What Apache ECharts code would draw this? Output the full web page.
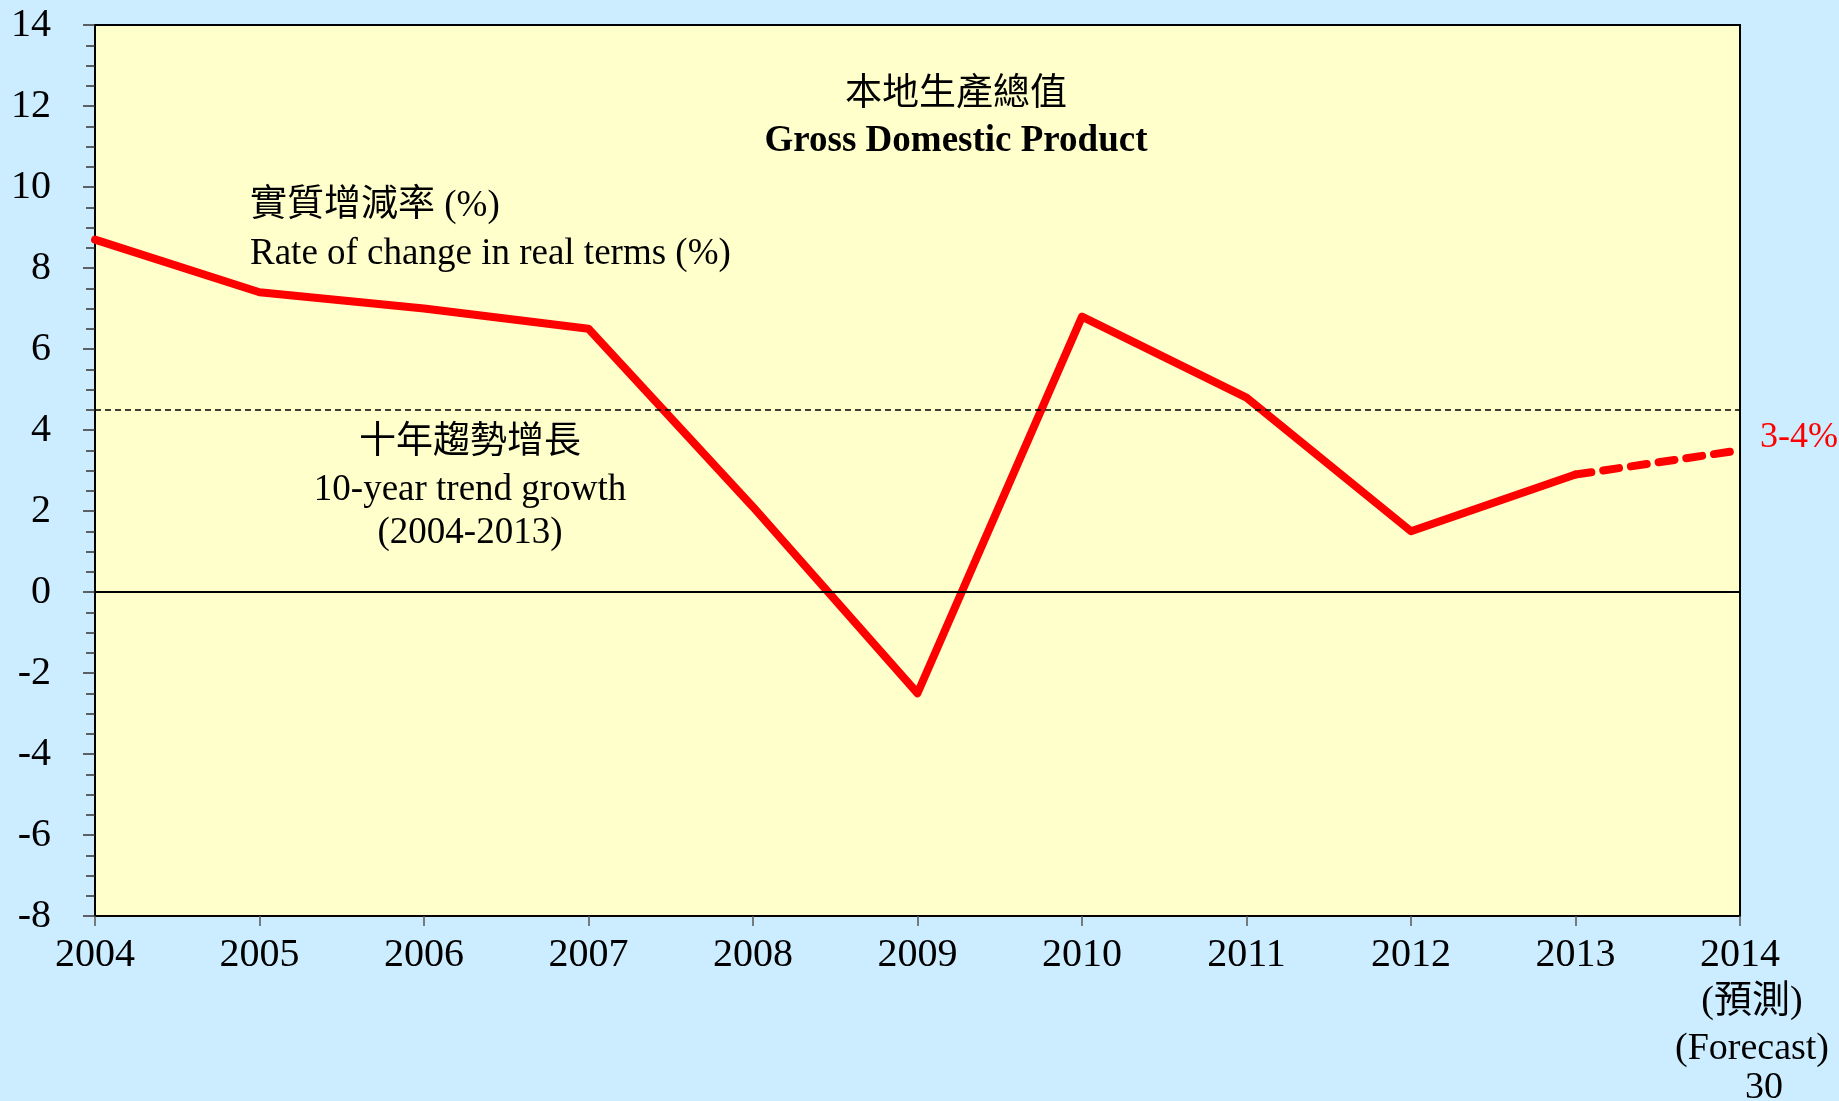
<!DOCTYPE html>
<html>
<head>
<meta charset="utf-8">
<script src="https://cdn.jsdelivr.net/npm/echarts@6/dist/echarts.min.js"></script>
<style>
  html, body { margin: 0; padding: 0; background: #CCECFF; }
  #chart { width: 1839px; height: 1101px; }
</style>
</head>
<body>
<div id="chart"></div>
<script>
// 本地生產總值 實質增減率 (%)
var years = ['2004', '2005', '2006', '2007', '2008', '2009', '2010', '2011', '2012', '2013', '2014'];
var actualGrowth = [8.7, 7.4, 7.0, 6.5, 2.1, -2.5, 6.8, 4.8, 1.5, 2.9, null];
var forecastGrowth = [null, null, null, null, null, null, null, null, null, 2.9, 3.5];
var trendGrowth = 4.5;
var yTicks = { min: -8, max: 14, step: 2 };

var serif = '"Liberation Serif", "Times New Roman", "Noto Sans CJK TC", serif';

var chart = echarts.init(document.getElementById('chart'));

function txt(x, y, text, size, opts) {
  opts = opts || {};
  return {
    type: 'text',
    x: x,
    y: y,
    silent: true,
    style: {
      text: text,
      fill: opts.color || '#000',
      font: (opts.bold ? 'bold ' : '') + size + 'px ' + serif,
      textAlign: opts.align || 'center',
      textVerticalAlign: 'middle'
    }
  };
}

var option = {
  backgroundColor: '#CCECFF',
  animation: false,
  grid: {
    show: true,
    left: 95,
    right: 99,
    top: 25,
    bottom: 185,
    backgroundColor: '#FFFFCC',
    borderColor: '#000',
    borderWidth: 2,
    containLabel: false,
    outerBoundsMode: 'none'
  },
  xAxis: {
    type: 'category',
    boundaryGap: false,
    data: years,
    axisLine: { onZero: false, lineStyle: { color: '#000', width: 2 } },
    axisTick: { interval: 0, length: 10, lineStyle: { color: '#555', width: 1.5 } },
    axisLabel: {
      interval: 0,
      margin: 15,
      color: '#000',
      fontSize: 40,
      fontFamily: serif,
      lineHeight: 48,
      formatter: function (v) {
        if (v === '2014') {
          return '{y|2014}\n{f|(預測)}\n{f|(Forecast)}';
        }
        return v;
      },
      rich: {
        y: { fontSize: 40, fontFamily: serif, color: '#000', lineHeight: 48 },
        f: { fontSize: 38, fontFamily: serif, color: '#000', lineHeight: 47, padding: [0, 0, 0, 24] }
      }
    },
    splitLine: { show: false }
  },
  yAxis: {
    type: 'value',
    min: yTicks.min,
    max: yTicks.max,
    interval: yTicks.step,
    axisLine: { show: true, lineStyle: { color: '#000', width: 2 } },
    axisTick: { show: true, length: 12, lineStyle: { color: '#333', width: 1.5 } },
    minorTick: { show: true, splitNumber: 4, length: 9, lineStyle: { color: '#333', width: 1.5 } },
    axisLabel: {
      margin: 44,
      color: '#000',
      fontSize: 40,
      fontFamily: serif
    },
    splitLine: { show: false }
  },
  series: [{
    name: 'actual',
    type: 'line',
    data: actualGrowth,
    showSymbol: false,
    connectNulls: false,
    lineStyle: { color: '#FF0000', width: 8, join: 'round', cap: 'round' },
    markLine: {
      silent: true,
      symbol: 'none',
      label: { show: false },
      data: [
        { yAxis: trendGrowth, lineStyle: { color: '#000', width: 1.5, type: [6, 4] } },
        { yAxis: 0, lineStyle: { color: '#000', width: 2, type: 'solid' } }
      ]
    },
    z: 3
  }, {
    name: 'forecast',
    type: 'line',
    data: forecastGrowth,
    showSymbol: false,
    lineStyle: { color: '#FF0000', width: 8, type: [16, 12], cap: 'round' },
    z: 3
  }],
  graphic: [
    txt(956, 95, '本地生產總值', 37),
    txt(956, 141, 'Gross Domestic Product', 37, { bold: true }),
    txt(250, 206, '實質增減率 (%)', 37, { align: 'left' }),
    txt(250, 254, 'Rate of change in real terms (%)', 37, { align: 'left' }),
    txt(470, 443, '十年趨勢增長', 37),
    txt(470, 490, '10-year trend growth', 37),
    txt(470, 533, '(2004-2013)', 37),
    txt(1799, 438, '3-4%', 36, { color: '#FF0000' }),
    txt(1764, 1088, '30', 38)
  ]
};

chart.setOption(option);
</script>
</body>
</html>
